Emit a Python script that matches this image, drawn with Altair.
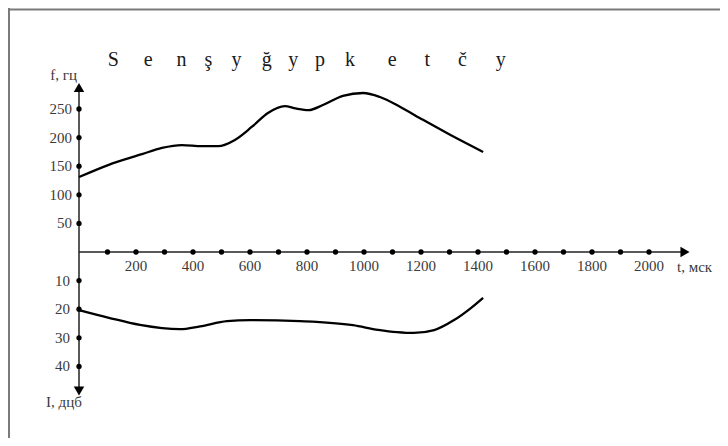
import altair as alt
import pandas as pd

# ---- data ----
f_t = [0, 102, 221, 291, 361, 432, 488, 547, 607, 663, 722, 760, 806, 856, 926, 997, 1056, 1126, 1207, 1302, 1418]
f_hz = [131, 152, 171, 182, 187, 185, 185, 196, 219, 243, 255, 251, 248, 257, 273, 278, 271, 254, 231, 205, 175]

i_t = [0, 105, 214, 354, 425, 519, 600, 775, 961, 1050, 1116, 1175, 1246, 1316, 1375, 1418]
i_db = [20.3, 23, 25.5, 27, 26, 24.2, 23.8, 24.2, 25.6, 27.2, 28, 28.3, 27.3, 23.8, 19.6, 16]

letters = ["S", "e", "n", "ş", "y", "ğ", "y", "p", "k", "e", "t", "č", "y"]
letter_t = [120, 243, 360, 454, 553, 659, 752, 846, 951, 1099, 1222, 1345, 1480]

x_dots = list(range(100, 2001, 100))
x_labels = list(range(200, 2001, 200))
f_ticks = [50, 100, 150, 200, 250]
i_ticks = [10, 20, 30, 40]

# ---- layout constants (pixels) ----
W, H = 712, 430
X0, KX = 71, 0.285      # px of t=0, px per ms
Y0, KF, KI = 244, 0.572, 2.86  # px of zero line, px per Hz, px per dB

xs = alt.Scale(domain=[-X0 / KX, (W - X0) / KX], nice=False, zero=False)
fs = alt.Scale(domain=[(Y0 - H) / KF, Y0 / KF], nice=False, zero=False)
ds = alt.Scale(domain=[-Y0 / KI, (H - Y0) / KI], nice=False, zero=False, reverse=True)

FONT = "Liberation Serif"
TXT = "#3a3a3a"


def X(col="t"):
    return alt.X(f"{col}:Q", scale=xs, axis=None)


def Yf(col="v"):
    return alt.Y(f"{col}:Q", scale=fs, axis=None)


def Yd(col="v"):
    return alt.Y(f"{col}:Q", scale=ds, axis=None)


def df(**kw):
    return pd.DataFrame(kw)


# arrow / label positions in data units
T_ARROW = (685 - 79) / KX
F_ARROW = (252 - 87.5) / KF
I_ARROW = (391 - 252) / KI

# ---------- Hz layer ----------
f_curve = alt.Chart(df(t=f_t, v=f_hz)).mark_line(
    color="black", strokeWidth=2.3, interpolate="monotone"
).encode(x=X(), y=Yf())

x_axis = alt.Chart(df(t=[0], t2=[T_ARROW], v=[0])).mark_rule(
    color="#222", strokeWidth=1.5
).encode(x=X(), x2="t2:Q", y=Yf())

y_axis_up = alt.Chart(df(t=[0], v=[0], v2=[F_ARROW])).mark_rule(
    color="#222", strokeWidth=1.5
).encode(x=X(), y=Yf(), y2="v2:Q")

x_dot = alt.Chart(df(t=x_dots, v=[0] * len(x_dots))).mark_point(
    filled=True, shape="circle", size=28, color="black", opacity=1
).encode(x=X(), y=Yf())

f_dot = alt.Chart(df(t=[0] * len(f_ticks), v=f_ticks)).mark_point(
    filled=True, shape="circle", size=28, color="black", opacity=1
).encode(x=X(), y=Yf())

x_lab = alt.Chart(df(t=x_labels, v=[0] * len(x_labels), s=[str(v) for v in x_labels])).mark_text(
    font=FONT, fontSize=15, color=TXT, baseline="middle", align="center", dy=14
).encode(x=X(), y=Yf(), text="s:N")

f_lab = alt.Chart(df(t=[0] * len(f_ticks), v=f_ticks, s=[str(v) for v in f_ticks])).mark_text(
    font=FONT, fontSize=15, color=TXT, baseline="middle", align="right", dx=-7
).encode(x=X(), y=Yf(), text="s:N")

arrow_r = alt.Chart(df(t=[T_ARROW], v=[0])).mark_point(
    filled=True, shape="triangle-right", size=110, color="black", opacity=1
).encode(x=X(), y=Yf())

arrow_u = alt.Chart(df(t=[0], v=[F_ARROW])).mark_point(
    filled=True, shape="triangle-up", size=110, color="black", opacity=1
).encode(x=X(), y=Yf())

title_letters = alt.Chart(df(t=letter_t, s=letters, v=[325] * len(letters))).mark_text(
    font=FONT, fontSize=20, color="#1a1a1a", baseline="alphabetic", align="center"
).encode(x=X(), y=Yf(), text="s:N")

f_name = alt.Chart(df(t=[0], v=[F_ARROW], s=["f, гц"])).mark_text(
    font=FONT, fontSize=15, color=TXT, baseline="middle", align="right", dx=-2, dy=-13
).encode(x=X(), y=Yf(), text="s:N")

t_name = alt.Chart(df(t=[T_ARROW], v=[0], s=["t, мск"])).mark_text(
    font=FONT, fontSize=15, color=TXT, baseline="middle", align="left", dx=-8, dy=15
).encode(x=X(), y=Yf(), text="s:N")

hz = alt.layer(x_axis, y_axis_up, f_curve, x_dot, f_dot, x_lab, f_lab, arrow_r, arrow_u,
               title_letters, f_name, t_name)

# ---------- dB layer ----------
i_curve = alt.Chart(df(t=i_t, v=i_db)).mark_line(
    color="black", strokeWidth=2.3, interpolate="monotone"
).encode(x=X(), y=Yd())

y_axis_down = alt.Chart(df(t=[0], v=[0], v2=[I_ARROW])).mark_rule(
    color="#222", strokeWidth=1.5
).encode(x=X(), y=Yd(), y2="v2:Q")

i_dot = alt.Chart(df(t=[0] * len(i_ticks), v=i_ticks)).mark_point(
    filled=True, shape="circle", size=28, color="black", opacity=1
).encode(x=X(), y=Yd())

i_lab = alt.Chart(df(t=[0] * len(i_ticks), v=i_ticks, s=[str(v) for v in i_ticks])).mark_text(
    font=FONT, fontSize=15, color=TXT, baseline="middle", align="right", dx=-9
).encode(x=X(), y=Yd(), text="s:N")

arrow_d = alt.Chart(df(t=[0], v=[I_ARROW])).mark_point(
    filled=True, shape="triangle-down", size=110, color="black", opacity=1
).encode(x=X(), y=Yd())

i_name = alt.Chart(df(t=[0], v=[I_ARROW], s=["I, дцб"])).mark_text(
    font=FONT, fontSize=15, color=TXT, baseline="middle", align="center", dx=-15, dy=11
).encode(x=X(), y=Yd(), text="s:N")

db = alt.layer(y_axis_down, i_curve, i_dot, i_lab, arrow_d, i_name)

# ---------- frame (only top and left edges are visible in the picture) ----------
frame_top = alt.Chart(df(a=[0])).mark_rule(color="#7a7a7a", strokeWidth=2).encode(
    x=alt.value(0), x2=alt.value(W), y=alt.value(1.5)
)
frame_left = alt.Chart(df(a=[0])).mark_rule(color="#7a7a7a", strokeWidth=2).encode(
    x=alt.value(1), y=alt.value(0), y2=alt.value(H)
)
# white strips along the right and bottom edges (the reference frame runs off the picture there)
cover_right = alt.Chart(df(a=[0])).mark_rect(color="white", opacity=1).encode(
    x=alt.value(W - 4), x2=alt.value(W), y=alt.value(4), y2=alt.value(H)
)
cover_bottom = alt.Chart(df(a=[0])).mark_rect(color="white", opacity=1).encode(
    x=alt.value(4), x2=alt.value(W), y=alt.value(H - 4), y2=alt.value(H)
)

chart = alt.layer(cover_right, cover_bottom, frame_top, frame_left, hz, db).resolve_scale(
    y="independent"
).properties(
    width=W, height=H, autosize=alt.AutoSizeParams(type="none"), padding=0,
).configure(background="white").configure_view(stroke="transparent", strokeWidth=0)

chart.save("out.html", embed_options={"renderer": "svg", "actions": False})
